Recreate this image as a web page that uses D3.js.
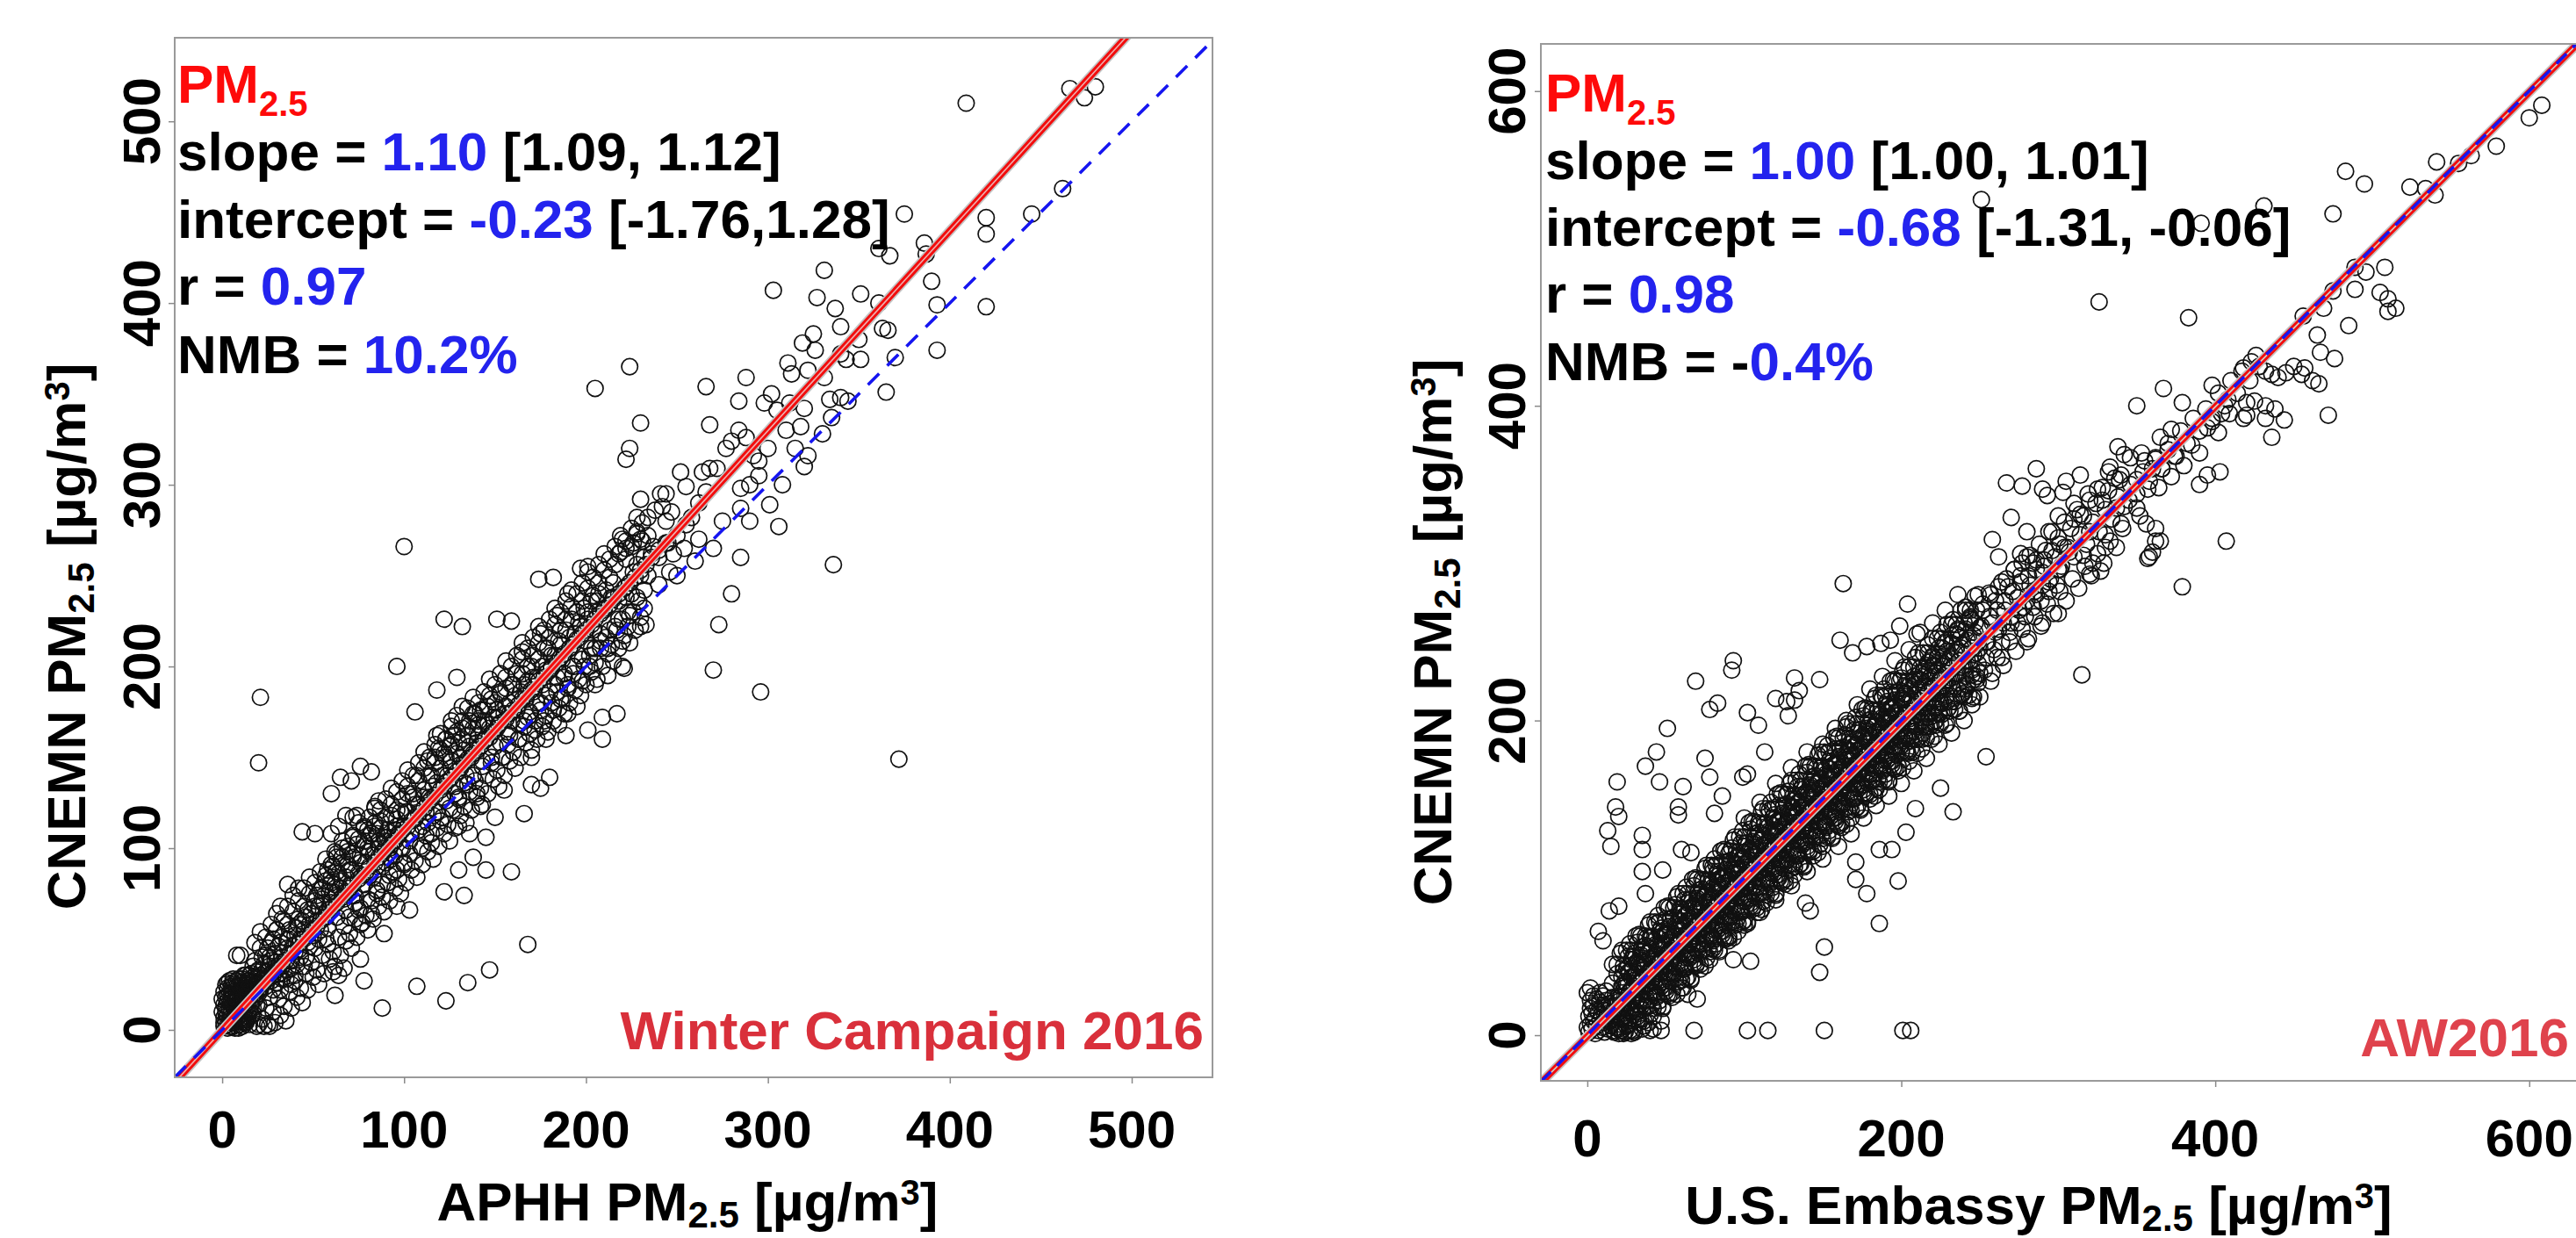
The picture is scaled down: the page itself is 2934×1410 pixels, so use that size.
<!DOCTYPE html>
<html>
<head>
<meta charset="utf-8">
<script src="https://cdn.jsdelivr.net/npm/d3@7"></script>
<style>
  body { margin: 0; background: #fff; }
  text { font-family: "Liberation Sans", Arial, sans-serif; font-weight: bold; }
</style>
</head>
<body>
<script>
// ---- data (µg/m3) ----
var leftPoints = [
  [1,2],[3,1],[5,2],[7,1],[9,3],[11,2],[13,4],[2,4],[4,5],[6,4],[8,6],[10,5],[12,7],[14,6],[1,7],[3,8],[5,9],[7,8],[9,10],[11,9],[13,11],[15,10],[2,11],[4,12],[6,13],[8,12],[10,14],[12,13],[14,15],[16,14],[1,14],[3,16],[5,17],[7,16],[9,18],[11,17],[13,19],[15,18],[2,18],[4,20],[6,21],[8,20],[10,22],[12,21],[14,23],[1,21],[3,23],[5,24],[7,25],[9,24],[11,26],[13,25],[2,25],[4,27],[6,28],[8,27],[0,10],[0,17],[17,12],[18,17],[16,20],[17,24],
  [3,3],[6,2],[9,1],[12,4],[15,3],[2,9],[5,7],[8,9],[11,7],[14,10],[17,9],[4,15],[7,13],[10,11],[13,16],[16,17],[19,14],[3,19],[6,18],[9,21],[12,19],[15,22],[18,20],[21,23],[5,22],[8,24],[11,28],[14,27],[17,29],[20,26],[23,29],[19,32],[22,33],[25,28],[27,31],[16,31],[13,30],
  [15,30],[18,25],[20,20],[22,28],[17,35],[20,33],[24,24],[25,32],[27,38],[22,40],[28,30],[30,26],[31,35],[29,42],[33,40],[34,31],[36,45],[32,48],[38,38],[35,28],[39,46],[40,52],[37,55],[42,44],[43,50],[41,36],[45,55],[44,60],[47,48],[46,40],[48,58],[50,52],[49,64],[52,60],[51,45],[53,68],[54,55],[56,62],[55,72],[57,50],[58,66],[10,41],[25,45],[30,55],[34,60],[20,14],[26,18],[24,12],[32,22],[40,30],[38,25],[45,35],[28,50],[23,36],[19,29],[36,33],[42,58],[47,66],[52,74],[12,30],[14,26],
  [55,78],[57,82],[59,76],[60,84],[62,80],[58,88],[61,90],[63,74],[64,86],[60,70],[65,78],[66,92],[63,95],[68,84],[67,72],[70,88],[69,98],[71,80],[72,95],[73,70],[74,102],[75,86],[76,96],[77,78],[78,104],[79,92],[80,100],[81,85],[82,108],[83,96],[84,112],[85,90],[86,102],[87,115],[88,98],[89,106],[90,92],[91,110],[92,100],[93,118],[94,104],[95,96],[96,112],[97,108],[98,120],[99,100],[80,110],[85,108],[90,104],[95,110],[78,112],[72,106],[66,100],[62,98],[70,62],[75,66],[80,72],[85,75],[88,80],[92,85],[96,88],[100,92],[76,58],[82,64],[68,118],[60,108],[64,112],[74,118],[86,126],[84,122],
  [100,112],[102,120],[104,108],[105,128],[106,116],[108,124],[110,112],[111,132],[112,120],[114,128],[115,140],[116,118],[117,150],[118,136],[119,155],[120,144],[121,128],[122,152],[123,160],[124,140],[125,156],[126,148],[127,162],[128,134],[129,152],[130,158],[131,146],[132,166],[133,154],[134,140],[135,162],[136,170],[137,150],[138,166],[139,174],[140,158],[141,168],[142,176],[143,145],[144,170],[145,160],[146,178],[147,166],[148,182],[149,172],[150,156],[151,176],[152,168],[153,185],[154,150],[155,174],[156,188],[157,164],[158,180],[159,170],[160,190],[110,100],[115,108],[120,115],[125,122],[130,128],[135,135],[140,130],[107,140],[113,148],[118,162],[102,130],[126,170],[132,178],
  [162,176],[163,160],[164,186],[165,196],[166,170],[167,182],[168,192],[169,175],[170,200],[171,186],[172,165],[173,194],[174,204],[175,180],[176,190],[177,170],[178,198],[179,210],[180,186],[181,200],[182,176],[183,206],[184,194],[185,214],[186,182],[187,204],[188,196],[189,220],[190,188],[191,210],[192,226],[193,200],[194,218],[195,230],[196,206],[197,222],[198,192],[199,232],[200,214],[201,226],[202,200],[203,236],[204,220],[205,210],[206,230],[207,240],[208,218],[210,232],[212,210],[214,238],[215,246],[216,222],[218,236],[220,214],[222,244],[224,228],[226,252],[228,238],[230,222],[230,250],[170,150],[178,160],[185,168],[195,178],[205,190],[212,195],[220,200],[165,208],[175,218],[184,228],[190,240],
  [21,22],[24,28],[27,27],[30,33],[33,35],[35,38],[37,42],[40,43],[42,47],[45,50],[47,52],[50,55],[52,57],[54,60],[57,62],[59,66],[61,68],[63,70],[66,73],[68,76],[70,78],[72,80],[75,83],[77,85],[79,87],[81,90],[84,92],[86,95],[88,97],[90,100],[93,102],[95,104],[97,107],[99,110],[102,112],[104,115],[106,117],[108,119],[111,122],[113,125],[115,127],[117,129],[120,132],[122,134],[124,137],[126,139],[129,142],[131,144],[133,147],[135,149],[138,152],[140,154],[142,156],[144,159],[147,161],[149,164],[151,166],[153,169],[156,171],[158,174],[160,176],[163,179],[165,182],[167,184],[170,187],[172,189],[174,192],[177,194],[179,197],[181,199],[184,202],[186,205],[188,207],[191,210],[193,212],[195,215],[198,218],[200,220],[203,223],[205,226],[208,229],[210,231],[213,234],[215,237],[218,240],[221,243],[224,246],[227,249],[230,253],[233,256],[236,260],[240,264],[244,268],
  [26,40],[31,46],[36,50],[41,56],[46,62],[51,68],[56,70],[61,76],[66,82],[71,88],[76,92],[81,98],[86,104],[91,106],[96,116],[101,120],[106,124],[111,128],[116,134],[121,140],[126,144],[131,150],[136,156],[141,162],[146,168],[151,172],[156,178],[161,184],[166,190],[171,194],[176,200],[181,206],[186,212],[191,216],[196,224],[201,230],[206,236],[211,242],
  [28,22],[33,28],[38,34],[43,40],[48,46],[53,50],[58,56],[63,62],[68,66],[73,74],[78,80],[83,84],[88,90],[93,94],[98,100],[103,104],[108,110],[113,114],[118,120],[123,126],[128,130],[133,136],[138,140],[143,148],[148,150],[153,158],[158,162],[163,168],[168,172],[173,180],[178,184],[183,190],[188,194],[193,200],[198,204],[203,210],[208,214],[213,220],[218,226],[223,230],
  [222,238],[215,238],[225,240],[230,292],[224,320],[222,314],[224,365],[230,334],[234,282],[238,286],[242,288],[247,285],[244,280],[241,295],[244,295],[252,307],[255,299],[218,262],[222,265],[226,268],[230,270],[234,272],[237,266],[232,260],[228,274],[220,270],[236,262],[240,260],[245,268],[250,272],[255,278],[248,262],[258,282],[262,290],[266,296],[264,307],[268,309],[272,309],[266,354],[268,333],[277,320],[280,324],[284,330],[288,326],[292,316],[295,313],[285,298],[285,287],[301,289],[306,277],[280,240],[285,260],[288,359],[284,346],[298,345],[302,350],[305,341],[303,407],[311,367],[313,361],[322,363],[319,378],[325,383],[326,374],[327,403],[331,418],[331,359],[334,347],[340,348],[344,346],[335,337],[330,328],[318,332],[320,342],[322,316],[320,310],[336,256],[296,186],[270,198],[273,223],[340,372],[343,369],[340,387],[350,380],[351,369],[351,405],[337,397],[361,400],[363,386],[366,385],[365,351],[370,370],[361,430],[367,426],[375,449],[386,433],[387,427],[390,412],[393,399],[420,447],[409,510],[462,463],[466,518],[474,513],[480,519],[372,149],[445,449],[420,438],[393,374],[420,398],[250,250],[260,258],[270,265],[275,280],[290,300],[295,305],[300,320],[310,330],[312,345],[308,300],[315,320],[290,280],[262,270],[254,265],[246,252],[240,245],[234,250],[228,256],[232,242],
  [21,183],[20,147],[96,200],[122,226],[132,222],[151,226],[159,225],[174,248],[182,249],[197,254],[201,255],[118,187],[129,194],[106,175],[190,174],[209,172],[217,174],[201,165],[209,160],[189,162],[221,199],[166,119],[155,132],[175,133],[170,135],[180,139],[159,87],[145,88],[130,88],[122,76],[133,74],[138,95],[145,106],[136,108],[130,112],[150,117],[142,123],[168,47],[147,33],[135,26],[123,16],[107,24],[88,12],[62,19],[78,27],[76,39],[64,30],[67,34],[61,32],[89,53],[103,66],[96,68],[8,41],[32,68],[36,80],[42,78],[44,109],[51,108],[60,130],[65,139],[71,137],[76,145],[82,142],[72,117],[100,266],[205,353]
];

// extra points in the solid black patch near the origin
var leftNearZero = [
  [1,4],[4,2],[7,5],[10,3],[13,6],[16,8],[2,13],[5,15],[8,17],[11,15],[14,18],[17,19],[20,22],[3,26],[6,26],[9,28],[12,24],[15,26],[18,28],[21,30],[24,32],[22,25],[26,35],[29,37],[31,31],[33,37]
];

// outer part of the left band (mesh on both sides of the fit line)
var leftBandOuter = [
  [18,38],[19,2],[18,48],[20,3],[21,45],[22,6],[21,54],[23,2],[24,41],[25,3],[24,51],[26,2],[27,48],[28,10],[27,58],[29,4],[30,55],[31,17],[30,64],[32,8],[33,51],[34,13],[33,61],[35,5],
  [36,58],[37,21],[36,68],[38,12],[39,65],[40,27],[39,74],[41,18],[42,61],[43,23],[42,71],[44,15],[45,68],[46,31],[45,78],[47,22],[48,75],[49,37],[48,84],[50,29],[51,71],[52,33],[51,81],[53,25],
  [54,77],[55,41],[54,87],[56,31],[57,85],[58,47],[57,94],[59,39],[60,81],[61,43],[60,91],[62,35],[63,87],[64,51],[63,97],[65,41],[66,95],[67,57],[66,104],[68,49],[69,91],[70,53],[69,101],[71,45],
  [72,97],[73,61],[72,107],[74,51],[75,105],[76,67],[75,114],[77,59],[78,101],[79,63],[78,111],[80,55],[81,107],[82,71],[81,117],[83,61],[84,114],[85,77],[84,123],[86,68],[87,111],[88,73],[87,121],[89,65],
  [90,117],[91,81],[90,127],[92,71],[93,124],[94,87],[93,133],[95,78],[96,121],[97,83],[96,131],[98,75],[99,127],[100,91],[99,137],[101,81],[102,134],[103,97],[102,143],[104,88],[105,130],[106,93],[105,140],[107,84],
  [108,137],[109,101],[108,147],[110,91],[111,144],[112,107],[111,153],[113,98],[114,140],[115,103],[114,150],[116,94],[117,147],[118,111],[117,157],[119,101],[120,154],[121,117],[120,163],[122,108],[123,150],[124,113],[123,160],[125,104],
  [126,157],[127,121],[126,167],[128,111],[129,164],[130,127],[129,173],[131,118],[132,160],[133,123],[132,170],[134,114],[135,167],[136,131],[135,177],[137,121],[138,174],[139,137],[138,183],[140,128],[141,170],[142,133],[141,180],[143,124],
  [144,176],[145,140],[144,186],[146,130],[147,184],[148,147],[147,193],[149,138],[150,180],[151,143],[150,190],[152,134],[153,186],[154,150],[153,196],[155,140],[156,194],[157,157],[156,203],[158,148],[159,190],[160,153],[159,200],[161,144],
  [162,196],[163,160],[162,206],[164,150],[165,204],[166,167],[165,213],[167,158],[168,200],[169,163],[168,210],[170,154],[171,206],[172,170],[171,216],[173,160],[174,213],[175,176],[174,222],[176,167],[177,210],[178,173],[177,220],[179,164],
  [180,216],[181,180],[180,226],[182,170],[183,223],[184,186],[183,232],[185,177],[186,220],[187,183],[186,230],[188,174],[189,226],[190,190],[189,236],[191,180],[192,233],[193,196],[192,242],[194,187],[195,230],[196,193],[195,240],[197,184],
  [198,236],[199,200],[198,246],[200,190],[201,243],[202,206],[201,252],[203,197],[204,239],[205,202],[204,249],[206,193],[207,246],[208,210],[207,256],[209,200],[210,253],[211,216],[210,262],[212,207],[213,249],[214,212],[213,259],[215,203],
  [216,256],[217,220],[216,266],[218,210],[219,263],[220,226],[219,272],[221,217],[222,259],[223,222],[222,269],[224,213],[225,266],[226,230],[225,276],[227,220],[228,273],[229,236],[228,282],[230,227],[231,269],[232,232],[231,279],[233,223]
];

var rightPoints = [
  [1,2],[3,4],[5,1],[7,3],[9,5],[11,2],[13,4],[15,6],[17,3],[19,5],[21,7],[2,7],[4,9],[6,6],[8,10],[10,8],[12,11],[14,9],[16,12],[18,10],[20,13],[22,11],[1,12],[3,14],[5,11],[7,15],[9,13],[11,16],[13,14],[15,18],[17,15],[19,19],[21,17],[23,20],[2,17],[4,19],[6,16],[8,21],[10,19],[12,22],[14,20],[16,24],[18,22],[20,25],[2,22],[4,25],[6,23],[8,27],[10,25],[12,28],[24,14],[25,24],[0,5],[0,27],[26,9],
  [22,11],[23,19],[21,24],[24,34],[22,3],[23,41],[25,17],[26,25],[24,30],[27,40],[25,6],[26,50],[28,15],[29,23],[27,28],[30,38],[28,1],[29,50],[31,22],[32,30],[30,35],[33,45],[31,15],[32,59],
  [34,23],[35,31],[33,36],[36,46],[34,10],[35,53],[37,29],[38,37],[36,42],[39,52],[37,18],[38,62],[40,27],[41,35],[39,40],[42,50],[40,13],[41,62],[43,34],[44,42],[42,47],[45,57],[43,27],[44,71],
  [46,35],[47,43],[45,48],[48,58],[46,22],[47,65],[49,41],[50,49],[48,54],[51,64],[49,30],[50,74],[52,39],[53,47],[51,52],[54,62],[52,25],[53,74],[55,46],[56,54],[54,59],[57,69],[55,39],[56,83],
  [58,47],[59,55],[57,60],[60,70],[58,34],[59,77],[61,53],[62,61],[60,66],[63,76],[61,42],[62,86],[64,51],[65,59],[63,64],[66,74],[64,37],[65,86],[67,58],[68,66],[66,71],[69,81],[67,51],[68,95],
  [70,59],[71,67],[69,72],[72,82],[70,46],[71,89],[73,65],[74,73],[72,78],[75,88],[73,54],[74,98],[76,63],[77,71],[75,76],[78,86],[76,49],[77,98],[79,70],[80,78],[78,83],[81,93],[79,63],[80,107],
  [82,71],[83,79],[81,84],[84,94],[82,58],[83,101],[85,77],[86,85],[84,90],[87,100],[85,66],[86,110],[88,75],[89,83],[87,88],[90,98],[88,61],[89,110],[91,82],[92,90],[90,95],[93,105],[91,75],[92,119],
  [94,83],[95,91],[93,96],[96,106],[94,70],[95,113],[97,89],[98,97],[96,102],[99,112],[97,78],[98,122],[100,87],[101,95],[99,100],[102,110],[100,73],[101,122],[103,94],[104,102],[102,107],[105,117],[103,87],[104,131],
  [106,95],[107,103],[105,108],[108,118],[106,82],[107,125],[109,101],[110,109],[108,114],[111,124],[109,90],[110,134],[112,99],[113,107],[111,112],[114,122],[112,85],[113,134],[115,106],[116,114],[114,119],[117,129],[115,99],[116,143],
  [118,107],[119,115],[117,120],[120,130],[118,94],[119,137],[121,113],[122,121],[120,126],[123,136],[121,102],[122,146],[124,111],[125,119],[123,124],[126,134],[124,97],[125,146],[127,118],[128,126],[126,131],[129,141],[127,111],[128,155],
  [130,119],[131,127],[129,132],[132,142],[130,106],[131,149],[133,125],[134,133],[132,138],[135,148],[133,114],[134,158],[136,123],[137,131],[135,136],[138,146],[136,109],[137,158],[139,130],[140,138],[138,143],[141,153],[139,123],[140,167],
  [142,131],[143,139],[141,144],[144,154],[142,118],[143,161],[145,137],[146,145],[144,150],[147,160],[145,126],[146,170],[148,135],[149,143],[147,148],[150,158],[148,121],[149,170],[151,142],[152,150],[150,155],[153,165],[151,135],[152,179],
  [154,143],[155,151],[153,156],[156,166],[154,130],[155,173],[157,149],[158,157],[156,162],[159,172],[157,138],[158,182],[160,147],[161,155],[159,160],[162,170],[160,133],[161,182],[163,154],[164,162],[162,167],[165,177],[163,147],[164,191],
  [166,155],[167,163],[165,168],[168,178],[166,142],[167,185],[169,161],[170,169],[168,174],[171,184],[169,150],[170,194],[172,159],[173,167],[171,172],[174,182],[172,145],[173,194],[175,166],[176,174],[174,179],[177,189],[175,159],[176,203],
  [178,167],[179,175],[177,180],[180,190],[178,154],[179,197],[181,173],[182,181],[180,186],[183,196],[181,162],[182,206],[184,171],[185,179],[183,184],[186,194],[184,157],[185,206],[187,178],[188,186],[186,191],[189,201],[187,171],[188,215],
  [190,179],[191,187],[189,192],[192,202],[190,166],[191,209],[193,185],[194,193],[192,198],[195,208],[193,174],[194,218],[196,183],[197,191],[195,196],[198,206],[196,169],[197,218],[199,190],[200,198],[198,203],[201,213],[199,183],[200,227],
  [20,15],[21,22],[22,31],[20,1],[21,52],[23,17],[24,25],[25,33],[23,44],[24,2],[26,20],[27,27],[28,37],[26,7],[27,58],[29,22],[30,31],[31,39],[29,50],[30,2],
  [32,27],[33,33],[34,43],[32,12],[33,64],[35,28],[36,37],[37,45],[35,56],[36,6],[38,33],[39,39],[40,49],[38,18],[39,70],[41,34],[42,43],[43,51],[41,62],[42,12],
  [44,39],[45,45],[46,55],[44,24],[45,76],[47,40],[48,49],[49,57],[47,68],[48,18],[50,45],[51,51],[52,61],[50,30],[51,82],[53,46],[54,55],[55,63],[53,74],[54,24],
  [56,51],[57,57],[58,67],[56,36],[57,88],[59,52],[60,61],[61,69],[59,80],[60,30],[62,57],[63,63],[64,73],[62,42],[63,94],[65,58],[66,67],[67,75],[65,86],[66,36],
  [68,63],[69,69],[70,79],[68,48],[69,100],[71,64],[72,73],[73,81],[71,92],[72,42],[74,69],[75,75],[76,85],[74,54],[75,106],[77,70],[78,79],[79,87],[77,98],[78,48],
  [80,75],[81,81],[82,91],[80,60],[81,112],[83,76],[84,85],[85,93],[83,104],[84,54],[86,81],[87,87],[88,97],[86,66],[87,118],[89,82],[90,91],[91,99],[89,110],[90,60],
  [92,87],[93,93],[94,103],[92,72],[93,124],[95,88],[96,97],[97,105],[95,116],[96,66],[98,93],[99,99],[100,109],[98,78],[99,130],[101,94],[102,103],[103,111],[101,122],[102,72],
  [104,99],[105,105],[106,115],[104,84],[105,136],[107,100],[108,109],[109,117],[107,128],[108,78],[110,105],[111,111],[112,121],[110,90],[111,142],[113,106],[114,115],[115,123],[113,134],[114,84],
  [116,111],[117,117],[118,127],[116,96],[117,148],[119,112],[120,121],[121,129],[119,140],[120,90],[122,117],[123,123],[124,133],[122,102],[123,154],[125,118],[126,127],[127,135],[125,146],[126,96],
  [128,123],[129,129],[130,139],[128,108],[129,160],[131,124],[132,133],[133,141],[131,152],[132,102],[134,129],[135,135],[136,145],[134,114],[135,166],[137,130],[138,139],[139,147],[137,158],[138,108],
  [140,135],[141,141],[142,151],[140,120],[141,172],[143,136],[144,145],[145,153],[143,164],[144,114],[146,141],[147,147],[148,157],[146,126],[147,178],[149,142],[150,151],[151,159],[149,170],[150,120],
  [152,147],[153,153],[154,163],[152,132],[153,184],[155,148],[156,157],[157,165],[155,176],[156,126],[158,153],[159,159],[160,169],[158,138],[159,190],[161,154],[162,163],[163,171],[161,182],[162,132],
  [164,159],[165,165],[166,175],[164,144],[165,196],[167,160],[168,169],[169,177],[167,188],[168,138],[170,165],[171,171],[172,181],[170,150],[171,202],[173,166],[174,175],[175,183],[173,194],[174,144],
  [176,171],[177,177],[178,187],[176,156],[177,208],[179,172],[180,181],[181,189],[179,200],[180,150],[182,177],[183,183],[184,193],[182,162],[183,214],[185,178],[186,187],[187,195],[185,206],[186,156],
  [188,183],[189,189],[190,199],[188,168],[189,220],[191,184],[192,193],[193,201],[191,212],[192,162],[194,189],[195,195],[196,205],[194,174],[195,226],[197,190],[198,199],[199,207],[197,218],[198,168],
  [200,195],[201,201],[202,211],[200,180],[201,232],[204,198],[205,206],[206,214],[204,225],[205,174],[208,203],[209,210],[210,219],[208,188],[209,240],[212,206],[213,214],[214,222],[212,233],[213,182],
  [216,211],[217,218],[218,227],[216,196],[217,248],[220,214],[221,222],[222,230],[220,241],[221,190],[224,219],[225,226],[226,235],[224,204],[225,256],[228,222],[229,230],[230,238],[228,249],[229,198],
  [232,227],[233,234],[234,243],[232,212],[233,264],[236,230],[237,238],[238,246],[236,257],[237,206],[240,235],[241,242],[242,251],[240,220],[241,272],[244,238],[245,246],[246,254],[244,265],[245,214],[248,243],[249,250],[250,259],[248,228],[249,280],
  [202,190],[203,205],[201,214],[204,180],[202,222],[206,199],[207,212],[205,190],[208,226],[206,182],[210,204],[211,218],[209,196],[212,230],[210,188],[214,208],[215,222],[213,200],[216,235],[214,192],
  [218,214],[219,228],[217,204],[220,240],[218,196],[222,217],[223,232],[221,208],[224,246],[222,200],[226,222],[227,236],[225,212],[228,250],[226,204],[230,226],[231,240],[229,216],[232,254],[230,208],
  [234,230],[235,245],[233,220],[236,258],[234,212],[238,234],[239,248],[237,224],[240,262],[238,216],[242,238],[243,252],[241,228],[244,266],[242,222],[246,242],[247,256],[245,232],[248,270],[246,226],
  [250,246],[251,260],[249,236],[252,274],[250,230],[255,250],[256,266],[254,240],[257,280],[260,256],[261,270],[259,245],[262,285],[265,262],[266,276],[264,250],[267,290],[270,266],[271,282],[269,256],[272,296],
  [275,270],[276,288],[274,262],[277,300],[280,276],[281,292],[279,266],[282,305],[285,282],[286,296],[284,272],[290,286],[291,302],[289,276],[295,290],[296,308],[294,282],[300,296],[301,312],[299,286],
  [254,250],[258,262],[262,258],[266,270],[270,262],[274,278],[278,272],[282,286],[286,280],[290,294],[294,288],[298,304],[302,298],[306,310],[310,304],[314,318],[318,312],[322,326],[326,320],[330,334],[334,328],[338,342],[342,336],[346,350],[350,344],[354,358],[358,352],[362,366],[366,360],[370,376],[374,368],[378,384],[382,376],[386,392],[390,384],[394,398],[398,392],[402,408],[406,400],[410,416],[414,408],[418,424],[422,416],[426,432],
  [150,185],[158,195],[165,200],[172,210],[180,220],[188,228],[196,238],[205,245],[212,256],[220,262],[228,270],[236,280],[140,180],[130,170],[120,160],[110,148],[100,138],[160,120],[168,128],[176,138],[184,146],[192,152],[200,160],[208,168],[216,176],[224,185],[232,192],[240,200],[150,112],[140,104],[130,95],[120,86],[110,78],[100,70],[90,62],[80,55],[70,90],[60,80],[50,72],[40,62],[30,52],[80,104],[90,115],[100,126],[245,210],[250,215],[258,230],[264,240],[210,255],
  [163,287],[204,274],[93,238],[92,232],[69,225],[83,211],[78,207],[102,205],[109,197],[51,195],[44,180],[37,171],[19,161],[46,161],[61,158],[75,176],[78,164],[86,152],[18,145],[20,139],[13,130],[15,120],[35,127],[35,118],[58,145],[58,140],[81,141],[35,104],[48,105],[60,118],[66,116],[37,90],[14,79],[20,82],[7,66],[10,60],[2,30],[132,227],[135,219],[148,226],[120,214],[127,212],[132,213],[128,203],[113,180],[102,166],[99,164],[161,251],[169,243],[178,247],[187,249],[193,251],[199,260],[254,177],[233,142],[225,157],[209,144],[203,129],[194,118],[186,118],[171,110],[171,99],[178,90],[198,98],[186,71],[151,56],[148,40],[142,79],[139,84],[104,47],[93,48],[70,23],[64,26],[61,30],[47,9],[42,4],[35,4],[29,3],[40,3],[47,3],[68,3],[102,3],[115,3],[151,3],[201,3],[206,3],
  [541,555],[524,539],[534,538],[540,534],[483,549],[495,541],[475,522],[431,527],[391,516],[251,531],[326,466],[383,456],[489,488],[496,485],[508,488],[475,473],[489,474],[469,462],[505,472],[510,468],[515,462],[510,460],[485,451],[465,445],[467,434],[476,430],[456,457],[423,428],[428,425],[432,422],[436,420],[440,418],[445,421],[450,425],[455,420],[457,424],[462,416],[466,414],[417,422],[420,402],[425,403],[432,400],[438,398],[444,391],[432,392],[420,394],[418,392],[472,394],[436,380],[398,413],[367,411],[350,400],[379,402],[408,404],[404,395],[409,395],[398,390],[395,386],[402,383],
  [365,380],[370,372],[375,368],[380,362],[385,375],[390,370],[372,385],[360,360],[355,365],[395,356],[390,350],[403,358],[338,374],[342,369],[346,367],[353,370],[362,367],[366,360],[372,355],[364,348],[357,347],[350,353],[333,361],[332,358],[339,353],[325,347],[319,344],[314,331],[310,328],[352,330],[356,325],[362,322],[365,314],[362,314],[357,303],[286,360],[267,351],[277,349],[290,347],[293,343],[303,345],[305,352],[314,356],[270,329],[280,320],[294,320],[258,315],[262,304],[276,306],[286,302],[291,298],[304,310],[307,307],[316,305],[322,300],[327,295],[320,293],[301,296],[407,314],[379,285],[360,307],[358,304],[337,335],[345,340],[330,318],[340,325],[350,335],[328,340],[300,330],[310,338],[320,320],[330,310],
  [555,554],[563,559],[579,565],[600,583],[608,591],[315,229],[280,250],[290,262],[300,268]
];

// inner core of the right band (solid black along the 1:1 line)
var rightBandInner = [
  [24,10],[25,21],[23,32],[27,15],[28,29],[26,40],[30,16],[31,27],[29,43],[33,19],[34,35],[32,46],[36,22],[37,33],[35,49],[39,25],[40,41],[38,52],[42,28],[43,39],[41,55],[45,31],[46,47],[44,58],
  [48,34],[49,45],[47,61],[51,37],[52,53],[50,64],[54,40],[55,51],[53,67],[57,43],[58,59],[56,70],[60,46],[61,57],[59,73],[63,49],[64,65],[62,76],[66,52],[67,63],[65,79],[69,55],[70,71],[68,82],
  [72,58],[73,69],[71,85],[75,61],[76,77],[74,88],[78,64],[79,75],[77,91],[81,67],[82,83],[80,94],[84,70],[85,81],[83,97],[87,73],[88,89],[86,100],[90,76],[91,87],[89,103],[93,79],[94,95],[92,106],
  [96,82],[97,93],[95,109],[99,85],[100,101],[98,112],[102,88],[103,99],[101,115],[105,91],[106,107],[104,118],[108,94],[109,105],[107,121],[111,97],[112,113],[110,124],[114,100],[115,111],[113,127],[117,103],[118,119],[116,130],
  [120,106],[121,117],[119,133],[123,109],[124,125],[122,136],[126,112],[127,123],[125,139],[129,115],[130,131],[128,142],[132,118],[133,129],[131,145],[135,121],[136,137],[134,148],[138,124],[139,135],[137,151],[141,127],[142,143],[140,154],
  [144,130],[145,141],[143,157],[147,133],[148,149],[146,160],[150,136],[151,147],[149,163],[153,139],[154,155],[152,166],[156,142],[157,153],[155,169],[159,145],[160,161],[158,172],[162,148],[163,159],[161,175],[165,151],[166,167],[164,178],
  [168,154],[169,165],[167,181],[171,157],[172,173],[170,184],[174,160],[175,171],[173,187],[177,163],[178,179],[176,190],[180,166],[181,177],[179,193],[183,169],[184,185],[182,196],[186,172],[187,183],[185,199],[189,175],[190,191],[188,202],
  [192,178],[193,189],[191,205],[195,181],[196,197],[194,208],[198,184],[199,195],[197,211],[201,187],[202,203],[200,214],[204,190],[205,201],[203,217],[207,193],[208,209],[206,220],[210,196],[211,207],[209,223],[213,199],[214,215],[212,226],
  [216,202],[217,213],[215,229],[219,205],[220,221],[218,232],[222,208],[223,219],[221,235],[225,211],[226,227],[224,238],[228,214],[229,225],[227,241]
];

// outer part of the right band (mesh on both sides of the 1:1 line)
var rightBandOuter = [
  [16,33],[17,2],[16,45],[18,5],[19,39],[20,4],[19,45],[21,3],[22,37],[23,1],[22,54],[24,2],[25,42],[26,7],[25,54],[27,3],[28,48],[29,13],[28,54],[30,2],[31,46],[32,10],[31,63],[33,8],
  [34,51],[35,16],[34,63],[36,9],[37,57],[38,22],[37,63],[39,8],[40,55],[41,19],[40,72],[42,17],[43,60],[44,25],[43,72],[45,18],[46,66],[47,31],[46,72],[48,17],[49,64],[50,28],[49,81],[51,26],
  [52,69],[53,34],[52,81],[54,27],[55,75],[56,40],[55,81],[57,26],[58,73],[59,37],[58,90],[60,35],[61,78],[62,43],[61,90],[63,36],[64,84],[65,49],[64,90],[66,35],[67,82],[68,46],[67,99],[69,44],
  [70,87],[71,52],[70,99],[72,45],[73,93],[74,58],[73,99],[75,44],[76,91],[77,55],[76,108],[78,53],[79,96],[80,61],[79,108],[81,54],[82,102],[83,67],[82,108],[84,53],[85,100],[86,64],[85,117],[87,62],
  [88,105],[89,70],[88,117],[90,63],[91,111],[92,76],[91,117],[93,62],[94,109],[95,73],[94,126],[96,71],[97,114],[98,79],[97,126],[99,72],[100,120],[101,85],[100,126],[102,71],[103,118],[104,82],[103,135],[105,80],
  [106,123],[107,88],[106,135],[108,81],[109,129],[110,94],[109,135],[111,80],[112,127],[113,91],[112,144],[114,89],[115,132],[116,97],[115,144],[117,90],[118,138],[119,103],[118,144],[120,89],[121,136],[122,100],[121,153],[123,98],
  [124,141],[125,106],[124,153],[126,99],[127,147],[128,112],[127,153],[129,98],[130,145],[131,109],[130,162],[132,107],[133,150],[134,115],[133,162],[135,108],[136,156],[137,121],[136,162],[138,107],[139,154],[140,118],[139,171],[141,116],
  [142,159],[143,124],[142,171],[144,117],[145,165],[146,130],[145,171],[147,116],[148,163],[149,127],[148,180],[150,125],[151,168],[152,133],[151,180],[153,126],[154,174],[155,139],[154,180],[156,125],[157,172],[158,136],[157,189],[159,134],
  [160,177],[161,142],[160,189],[162,135],[163,183],[164,148],[163,189],[165,134],[166,181],[167,145],[166,198],[168,143],[169,186],[170,151],[169,198],[171,144],[172,192],[173,157],[172,198],[174,143],[175,190],[176,154],[175,207],[177,152],
  [178,195],[179,160],[178,207],[180,153],[181,201],[182,166],[181,207],[183,152],[184,199],[185,163],[184,216],[186,161],[187,204],[188,169],[187,216],[189,162],[190,210],[191,175],[190,216],[192,161],[193,208],[194,172],[193,225],[195,170],
  [196,213],[197,178],[196,225],[198,171],[199,219],[200,184],[199,225],[201,170],[202,217],[203,181],[202,234],[204,179],[205,222],[206,187],[205,234],[207,180],[208,228],[209,193],[208,234],[210,179],[211,226],[212,190],[211,243],[213,188],
  [214,231],[215,196],[214,243],[216,189],[217,237],[218,202],[217,243],[219,188],[220,235],[221,199],[220,252],[222,197],[223,240],[224,205],[223,252],[225,198],[226,246],[227,211],[226,252],[228,197],[229,244],[230,208],[229,261],[231,206],
  [232,249],[233,214],[232,261],[234,207],[235,255],[236,220],[235,261],[237,206],[238,253],[239,217],[238,270],[240,215],[241,258],[242,223],[241,270],[243,216],[244,264],[245,229],[244,270],[246,215],[247,262],[248,226],[247,279],[249,224],
  [252,270],[253,232],[256,281],[257,225],[260,276],[261,240],[264,288],[265,235],[268,285],[269,250],[272,296],[273,244],[276,292],[277,258],[280,304],[281,252],[284,300],[285,266],[288,312],[289,260],[292,308],[293,274],
  [296,320],[297,268],[300,316],[301,282],[304,326],[305,276],[308,322],[309,290],[312,334],[313,284],[316,330],[317,298],[320,340],[321,292],[324,338],[325,306],[328,348],[329,300],[332,346],[333,314],[336,354],[337,310],[340,356],[341,322]
];

var leftXTicks = [0, 100, 200, 300, 400, 500];
var leftYTicks = [0, 100, 200, 300, 400, 500];
var rightXTicks = [0, 200, 400, 600];
var rightYTicks = [0, 200, 400, 600];

var leftFit = { slope: 1.10, intercept: -0.23 };
var rightFit = { slope: 1.00, intercept: -0.68 };

var leftStats = [
  [["slope = ", "k"], ["1.10", "b"], [" [1.09, 1.12]", "k"]],
  [["intercept = ", "k"], ["-0.23", "b"], [" [-1.76,1.28]", "k"]],
  [["r = ", "k"], ["0.97", "b"]],
  [["NMB = ", "k"], ["10.2%", "b"]]
];
var rightStats = [
  [["slope = ", "k"], ["1.00", "b"], [" [1.00, 1.01]", "k"]],
  [["intercept = ", "k"], ["-0.68", "b"], [" [-1.31, -0.06]", "k"]],
  [["r = ", "k"], ["0.98", "b"]],
  [["NMB = -", "k"], ["0.4%", "b"]]
];

var leftXTitle = "APHH PM";
var rightXTitle = "U.S. Embassy PM";
var yTitle = "CNEMN PM";
var leftLabel = "Winter Campaign 2016";
var rightLabel = "AW2016";

// ---- layout ----
var W = 2934, H = 1410;
var colors = { k: "#000", b: "#2323ee", red: "#fe0a0a" };

var svg = d3.select("body").append("svg")
    .attr("width", W)
    .attr("height", H);

var panels = [
  {
    id: "left", points: leftPoints.concat(leftNearZero, leftBandOuter), xTicks: leftXTicks, yTicks: leftYTicks,
    fit: leftFit, stats: leftStats, xTitle: leftXTitle, label: leftLabel,
    box: { left: 199, right: 1381, top: 43, bottom: 1227 },
    xDomain: [-26.1, 544.4], yDomain: [-26.1, 546],
    statX: 202, pmY: 117, statY: [194, 271, 347, 425],
    xTickY: 1307, yTickX: 182, yTitleX: 97, yTitleY: 725,
    xTitleX: 783, xTitleY: 1390, labelX: 1371, labelY: 1195, labelColor: "#d9303b",
    lineStyle: "left"
  },
  {
    id: "right", points: rightPoints.concat(rightBandInner, rightBandOuter), xTicks: rightXTicks, yTicks: rightYTicks,
    fit: rightFit, stats: rightStats, xTitle: rightXTitle, label: rightLabel,
    box: { left: 1755, right: 2936, top: 50, bottom: 1231 },
    xDomain: [-29.6, 630.9], yDomain: [-29.0, 630.0],
    statX: 1760, pmY: 127, statY: [204, 280, 356, 433],
    xTickY: 1317, yTickX: 1737, yTitleX: 1653, yTitleY: 720,
    xTitleX: 2322, xTitleY: 1394, labelX: 2926, labelY: 1203, labelColor: "#df424c",
    lineStyle: "right"
  }
];

// text made of pieces; each piece may be shifted (sub/sup) and sized
function richText(parent, parts, size) {
  var t = parent.append("text").attr("font-size", size);
  var shift = 0;
  parts.forEach(function(p) {
    var s = p.shift || 0;
    t.append("tspan")
      .attr("dy", s - shift)
      .attr("font-size", p.size || size)
      .attr("fill", p.color || "#000")
      .text(p.text);
    shift = s;
  });
  return t;
}

function drawPanel(p) {
  var x = d3.scaleLinear().domain(p.xDomain).range([p.box.left, p.box.right]);
  var y = d3.scaleLinear().domain(p.yDomain).range([p.box.bottom, p.box.top]);
  var g = svg.append("g");

  var clipId = "clip-" + p.id;
  svg.append("clipPath").attr("id", clipId)
    .append("rect")
    .attr("x", p.box.left).attr("y", p.box.top)
    .attr("width", p.box.right - p.box.left)
    .attr("height", p.box.bottom - p.box.top);

  var plot = g.append("g").attr("clip-path", "url(#" + clipId + ")");

  // points
  plot.selectAll("circle")
    .data(p.points)
    .enter()
    .append("circle")
    .attr("cx", d => x(d[0]))
    .attr("cy", d => y(d[1]))
    .attr("r", 9.2)
    .attr("fill", "none")
    .attr("stroke", "#111")
    .attr("stroke-width", 1.7);

  // fit line and 1:1 line
  var line = d3.line().x(d => x(d[0])).y(d => y(d[1]));
  var fitPts = p.xDomain.map(v => [v, p.fit.slope * v + p.fit.intercept]);
  var onePts = p.xDomain.map(v => [v, v]);

  plot.append("path").attr("d", line(fitPts))
    .attr("stroke", "#c4c4c4").attr("stroke-width", 11).attr("fill", "none");
  plot.append("path").attr("d", line(fitPts))
    .attr("stroke", "#f20d0d").attr("stroke-width", 7.5).attr("fill", "none");
  plot.append("path").attr("d", line(fitPts))
    .attr("stroke", p.lineStyle === "left" ? "#eeb0b0" : "#cfcfcf")
    .attr("stroke-width", 1.6).attr("fill", "none");
  plot.append("path").attr("d", line(onePts))
    .attr("stroke", "#1515f0").attr("stroke-width", 3.6).attr("fill", "none")
    .attr("stroke-dasharray", p.lineStyle === "left" ? "18,13" : "16,10");

  // box
  g.append("rect")
    .attr("x", p.box.left).attr("y", p.box.top)
    .attr("width", p.box.right - p.box.left)
    .attr("height", p.box.bottom - p.box.top)
    .attr("fill", "none").attr("stroke", "#9a9a9a").attr("stroke-width", 2);

  // tick marks
  var xAxis = g.append("g")
    .attr("transform", "translate(0," + p.box.bottom + ")")
    .call(d3.axisBottom(x).tickValues(p.xTicks).tickSize(7).tickFormat(""));
  var yAxis = g.append("g")
    .attr("transform", "translate(" + p.box.left + ",0)")
    .call(d3.axisLeft(y).tickValues(p.yTicks).tickSize(7).tickFormat(""));
  [xAxis, yAxis].forEach(function(a) {
    a.select(".domain").remove();
    a.selectAll("line").attr("stroke", "#8a8a8a").attr("stroke-width", 1.5);
  });

  // tick labels
  g.selectAll("text.xtick")
    .data(p.xTicks)
    .enter()
    .append("text")
    .attr("class", "xtick")
    .attr("x", d => x(d))
    .attr("y", p.xTickY)
    .attr("text-anchor", "middle")
    .attr("font-size", 60)
    .text(d => d);

  g.selectAll("text.ytick")
    .data(p.yTicks)
    .enter()
    .append("text")
    .attr("class", "ytick")
    .attr("transform", d => "translate(" + p.yTickX + "," + y(d) + ") rotate(-90)")
    .attr("text-anchor", "middle")
    .attr("font-size", 60)
    .text(d => d);

  // axis titles
  richText(g, [
    { text: p.xTitle },
    { text: "2.5", size: 42, shift: 8 },
    { text: " [µg/m" },
    { text: "3", size: 40, shift: -18 },
    { text: "]" }
  ], 62)
    .attr("x", p.xTitleX).attr("y", p.xTitleY)
    .attr("text-anchor", "middle");

  richText(g, [
    { text: yTitle },
    { text: "2.5", size: 42, shift: 10 },
    { text: " [µg/m" },
    { text: "3", size: 40, shift: -18 },
    { text: "]" }
  ], 62)
    .attr("transform", "translate(" + p.yTitleX + "," + p.yTitleY + ") rotate(-90)")
    .attr("text-anchor", "middle");

  // stats
  richText(g, [
    { text: "PM", color: colors.red },
    { text: "2.5", size: 40, shift: 15, color: colors.red }
  ], 62)
    .attr("x", p.statX).attr("y", p.pmY);

  p.stats.forEach(function(row, i) {
    richText(g, row.map(r => ({ text: r[0], color: colors[r[1]] })), 62)
      .attr("x", p.statX).attr("y", p.statY[i])
      .attr("xml:space", "preserve")
      .style("white-space", "pre");
  });

  // campaign label
  g.append("text")
    .attr("x", p.labelX).attr("y", p.labelY)
    .attr("text-anchor", "end")
    .attr("font-size", 62)
    .attr("fill", p.labelColor)
    .text(p.label);
}

panels.forEach(drawPanel);
</script>
</body>
</html>
